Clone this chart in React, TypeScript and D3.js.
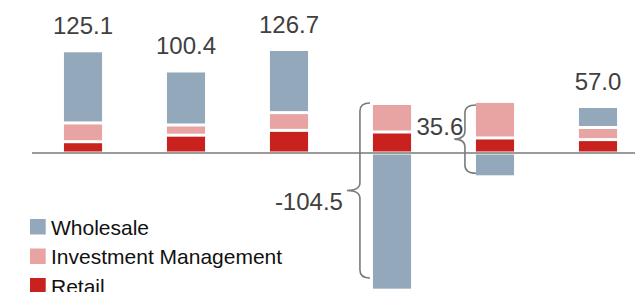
import React, { useEffect, useRef } from 'react';
import * as d3 from 'd3';

const categories = ['P1', 'P2', 'P3', 'P4', 'P5', 'P6'];
const retail = [13.8, 21.8, 27.7, 25.7, 18.4, 16.4];
const investment = [23.0, 12.5, 21.7, 34.9, 44.7, 14.8];
const wholesale = [88.3, 66.1, 77.3, -167.9, -29.1, 25.7];
const totalLabels = ['125.1', '100.4', '126.7', '-104.5', '35.6', '57.0'];
const seriesNames = ['Wholesale', 'Investment Management', 'Retail'];

// brace annotations: category index + value extent
const braceBars = [3, 4];
const braceTop = [61.2, 58.8];
const braceBottom = [-153, -24.8];

const colors: Record<string, string> = {
    Wholesale: '#94a8bb',
    'Investment Management': '#e8a4a2',
    Retail: '#c9211e',
};

const W = 635;
const H = 292;

const App: React.FC = () => {
    const svgRef = useRef<SVGSVGElement | null>(null);

    useEffect(() => {
        const svg = d3.select(svgRef.current);
        svg.selectAll('*').remove();

        const rows = categories.map((c, i) => ({
            cat: c,
            Retail: retail[i],
            'Investment Management': investment[i],
            Wholesale: wholesale[i],
        }));

        const x = d3
            .scaleBand()
            .domain(categories)
            .range([31.5, 649.5])
            .paddingInner(0.63)
            .paddingOuter(0.315);

        const k = 0.817;
        const y = d3
            .scaleLinear()
            .domain([-170, 130])
            .range([153 + 170 * k, 153 - 130 * k]);

        const stack = d3
            .stack<any>()
            .keys(['Retail', 'Investment Management', 'Wholesale'])
            .offset(d3.stackOffsetDiverging);
        const series = stack(rows);

        const gap = 3;
        series.forEach((s) => {
            svg
                .append('g')
                .selectAll('rect')
                .data(s)
                .join('rect')
                .attr('x', (d: any) => x(d.data.cat)!)
                .attr('width', x.bandwidth())
                .attr('y', (d) => Math.min(y(d[0]), y(d[1])) + gap / 2)
                .attr('height', (d) => Math.max(0, Math.abs(y(d[0]) - y(d[1])) - gap))
                .attr('fill', colors[s.key]);
        });

        // baseline
        svg
            .append('line')
            .attr('x1', 32)
            .attr('x2', W)
            .attr('y1', y(0))
            .attr('y2', y(0))
            .attr('stroke', '#9b9b9b')
            .attr('stroke-width', 2);

        const posTop = rows.map((r) =>
            [r.Retail, r['Investment Management'], r.Wholesale].filter((v) => v > 0).reduce((a, b) => a + b, 0)
        );

        // total labels above bars
        categories.forEach((c, i) => {
            if (braceBars.includes(i)) return;
            svg
                .append('text')
                .attr('x', x(c)! + x.bandwidth() / 2)
                .attr('y', y(posTop[i]) - 16.5)
                .attr('text-anchor', 'middle')
                .attr('font-family', 'Liberation Sans, Arial, sans-serif')
                .attr('font-size', 24)
                .attr('fill', '#404040')
                .text(totalLabels[i]);
        });

        // braces
        const braceLayout = [
            { end: 3, v: 13, tip: 26, tx: 4, ty: 19.5 },
            { end: 0, v: 11, tip: 21.7, tx: -9, ty: -4.5 },
        ];
        braceBars.forEach((bi, j) => {
            const left = x(categories[bi])!;
            const L = braceLayout[j];
            const xe = left - L.end;
            const xv = left - L.v;
            const xt = left - L.tip;
            const top = y(braceTop[j]);
            const bot = y(braceBottom[j]);
            const mid = (top + bot) / 2;
            const r = 8;
            const p = d3.path();
            p.moveTo(xe, top);
            p.quadraticCurveTo(xv, top, xv, top + r);
            p.lineTo(xv, mid - r);
            p.quadraticCurveTo(xv, mid, xt, mid);
            p.quadraticCurveTo(xv, mid, xv, mid + r);
            p.lineTo(xv, bot - r);
            p.quadraticCurveTo(xv, bot, xe, bot);
            svg
                .append('path')
                .attr('d', p.toString())
                .attr('fill', 'none')
                .attr('stroke', '#7a7a7a')
                .attr('stroke-width', 1.6);
            svg
                .append('text')
                .attr('x', xt - L.tx)
                .attr('y', mid + L.ty)
                .attr('text-anchor', 'end')
                .attr('font-family', 'Liberation Sans, Arial, sans-serif')
                .attr('font-size', 24)
                .attr('fill', '#404040')
                .text(totalLabels[bi]);
        });

        // legend
        const legend = svg.append('g').attr('transform', 'translate(30, 234.5)');
        seriesNames.forEach((name, i) => {
            const g = legend.append('g').attr('transform', `translate(0, ${i * 29.5})`);
            g.append('rect')
                .attr('x', 0)
                .attr('y', -15.5)
                .attr('width', 15.7)
                .attr('height', 15.5)
                .attr('fill', colors[name]);
            g.append('text')
                .attr('x', 21)
                .attr('y', 0)
                .attr('font-family', 'Liberation Sans, Arial, sans-serif')
                .attr('font-size', 21)
                .attr('fill', '#111')
                .text(name);
        });
    }, []);

    return (
        <svg
            ref={svgRef}
            width={W}
            height={H}
            style={{ position: 'absolute', left: 0, top: 0, background: '#fff' }}
        ></svg>
    );
};

export default App;
